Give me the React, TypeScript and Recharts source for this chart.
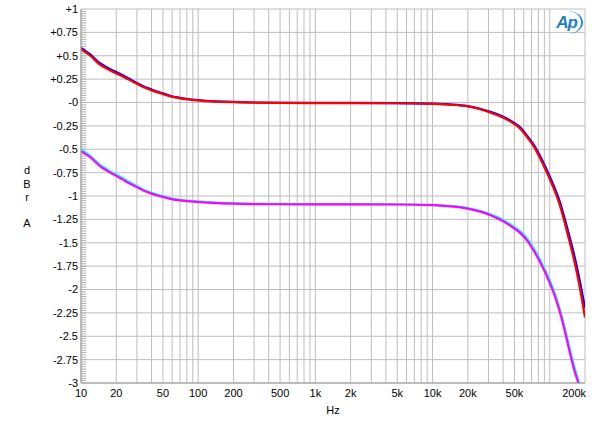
import React from 'react';
import { LineChart, Line, XAxis, YAxis, CartesianGrid, ReferenceLine } from 'recharts';

// frequency points (Hz)
const freqs = [
  10, 12, 14.5, 17, 20, 22.5, 25, 30, 34, 40, 50, 57.5, 70, 85, 104, 130, 160, 200, 300, 500,
  1000, 2000, 5000, 10000, 14000, 20000, 25000, 31300, 38000, 46400, 56500, 64500, 73400, 83800,
  100000, 109000, 120000, 132000, 145000, 161000, 180000, 200000,
];

// upper pair (0 dB reference)
const blueTop = [
  0.585, 0.515, 0.42, 0.37, 0.325, 0.295, 0.262, 0.21, 0.175, 0.14, 0.098, 0.072, 0.05, 0.035, 0.024,
  0.015, 0.01, 0.006, 0.0, -0.003, -0.004, -0.005, -0.006, -0.012, -0.02, -0.038, -0.064, -0.1,
  -0.14, -0.195, -0.27, -0.36, -0.455, -0.585, -0.79, -0.9, -1.035, -1.21, -1.4, -1.62, -1.9, -2.2,
];
const redTop = [
  0.57, 0.5, 0.405, 0.355, 0.31, 0.28, 0.25, 0.2, 0.165, 0.13, 0.09, 0.066, 0.045, 0.03, 0.02,
  0.012, 0.007, 0.003, -0.002, -0.005, -0.006, -0.007, -0.008, -0.014, -0.024, -0.042, -0.07, -0.11,
  -0.15, -0.205, -0.285, -0.375, -0.475, -0.61, -0.82, -0.93, -1.07, -1.25, -1.45, -1.68, -1.97, -2.3,
];

// lower pair
const cyanBottom = [
  -0.5, -0.57, -0.665, -0.72, -0.77, -0.805, -0.84, -0.893, -0.93, -0.965, -1.0, -1.022, -1.04, -1.052,
  -1.061, -1.069, -1.075, -1.079, -1.083, -1.085, -1.086, -1.087, -1.088, -1.094, -1.105, -1.128,
  -1.155, -1.195, -1.24, -1.305, -1.38, -1.46, -1.565, -1.695, -1.9, -2.02, -2.18, -2.37, -2.58,
  -2.81, -3.02, -3.27,
];
const magentaBottom = [
  -0.52, -0.585, -0.68, -0.735, -0.785, -0.82, -0.855, -0.905, -0.94, -0.975, -1.01, -1.03, -1.047,
  -1.058, -1.066, -1.073, -1.078, -1.082, -1.086, -1.088, -1.089, -1.09, -1.091, -1.098, -1.11,
  -1.135, -1.165, -1.205, -1.255, -1.32, -1.4, -1.48, -1.59, -1.72, -1.93, -2.05, -2.21, -2.4, -2.62,
  -2.85, -3.05, -3.3,
];

// grid lines on the frequency axis and the ones that carry a label
const xGrid = [
  10, 20, 30, 40, 50, 60, 70, 80, 90, 100, 200, 300, 400, 500, 600, 700, 800, 900, 1000, 2000,
  3000, 4000, 5000, 6000, 7000, 8000, 9000, 10000, 20000, 30000, 40000, 50000, 60000, 70000, 80000,
  90000, 100000, 200000,
];
const xLabels: Record<number, string> = {
  10: '10', 20: '20', 50: '50', 100: '100', 200: '200', 500: '500', 1000: '1k', 2000: '2k',
  5000: '5k', 10000: '10k', 20000: '20k', 50000: '50k', 200000: '200k',
};

const yMajor = [1, 0.75, 0.5, 0.25, 0, -0.25, -0.5, -0.75, -1, -1.25, -1.5, -1.75, -2, -2.25, -2.5, -2.75, -3];
const yMajorLabels = [
  '+1', '+0.75', '+0.5', '+0.25', '-0', '-0.25', '-0.5', '-0.75', '-1', '-1.25', '-1.5', '-1.75',
  '-2', '-2.25', '-2.5', '-2.75', '-3',
];
// small ruler ticks inside the left edge, every 0.025 dB
const yMinor: number[] = [];
for (let i = 1; i < 160; i++) yMinor.push(Math.round((-3 + i * 0.025) * 1000) / 1000);

const data = freqs.map((f, i) => ({
  f,
  blue: blueTop[i],
  red: redTop[i],
  cyan: cyanBottom[i],
  magenta: magentaBottom[i],
}));

const FONT = '"Liberation Sans", Arial, sans-serif';

function XTick(props: any) {
  const { x, y, payload } = props;
  const label = xLabels[payload.value];
  if (!label) return null;
  const last = payload.value === 200000;
  return (
    <text x={last ? x + 1 : x} y={y} dy="0.71em" textAnchor={last ? 'end' : 'middle'}
      fontSize={11} fontFamily={FONT} fill="#000">
      {label}
    </text>
  );
}

function YTick(props: any) {
  const { x, y, payload } = props;
  const idx = yMajor.findIndex((v) => Math.abs(v - payload.value) < 1e-6);
  return (
    <text x={x} y={y} dy="0.355em" textAnchor="end" fontSize={11} fontFamily={FONT} fill="#000">
      {yMajorLabels[idx]}
    </text>
  );
}

export default function App() {
  return (
    <div style={{ position: 'absolute', left: 0, top: 0, width: 600, height: 426, background: '#fff', fontFamily: FONT }}>
      <LineChart width={600} height={426} data={data} margin={{ top: 9, right: 15, bottom: 12, left: 0 }}>
        <CartesianGrid stroke="#bdbdbd" strokeWidth={1} />
        {yMinor.map((v) => (
          <ReferenceLine key={'m' + v} segment={[{ x: 10, y: v }, { x: 11.1, y: v }]} stroke="#b0b0b0" strokeWidth={1} />
        ))}
        <XAxis
          dataKey="f" type="number" scale="log" domain={[10, 200000]} allowDataOverflow
          ticks={xGrid} interval={0} tick={<XTick />} tickLine={false} tickSize={0} tickMargin={6}
          axisLine={{ stroke: '#9a9a9a' }} height={31}
        />
        <YAxis
          type="number" domain={[-3, 1]} allowDataOverflow ticks={yMajor} interval={0} width={81}
          tick={<YTick />} tickLine={false} tickSize={0} tickMargin={3} axisLine={{ stroke: '#9a9a9a' }}
        />
        <Line dataKey="blue" stroke="#0000ff" strokeWidth={2.2} dot={false} isAnimationActive={false} type="monotone" />
        <Line dataKey="red" stroke="#ff0000" strokeWidth={2.2} dot={false} isAnimationActive={false} type="monotone" />
        <Line dataKey="cyan" stroke="#00ffff" strokeWidth={2.2} dot={false} isAnimationActive={false} type="monotone" />
        <Line dataKey="magenta" stroke="#ff00ff" strokeWidth={2.2} dot={false} isAnimationActive={false} type="monotone" />
      </LineChart>
      {['d', 'B', 'r'].map((c, i) => (
        <div key={c} style={{ position: 'absolute', left: 22, top: 164 + i * 13.5, width: 10, textAlign: 'center', fontSize: 11 }}>
          {c}
        </div>
      ))}
      <div style={{ position: 'absolute', left: 22, top: 217, width: 10, textAlign: 'center', fontSize: 11 }}>A</div>
      <div style={{ position: 'absolute', left: 318, top: 404, width: 30, textAlign: 'center', fontSize: 11 }}>Hz</div>
      <div style={{
        position: 'absolute', left: 552, top: 11, width: 29, height: 23, borderRight: '2px solid #2b8ac6',
        borderRadius: '50%', color: '#1f7fc0', fontStyle: 'italic', fontWeight: 'bold', fontSize: 17,
        lineHeight: '23px', textAlign: 'center', letterSpacing: -1,
      }}>
        Ap
      </div>
    </div>
  );
}
